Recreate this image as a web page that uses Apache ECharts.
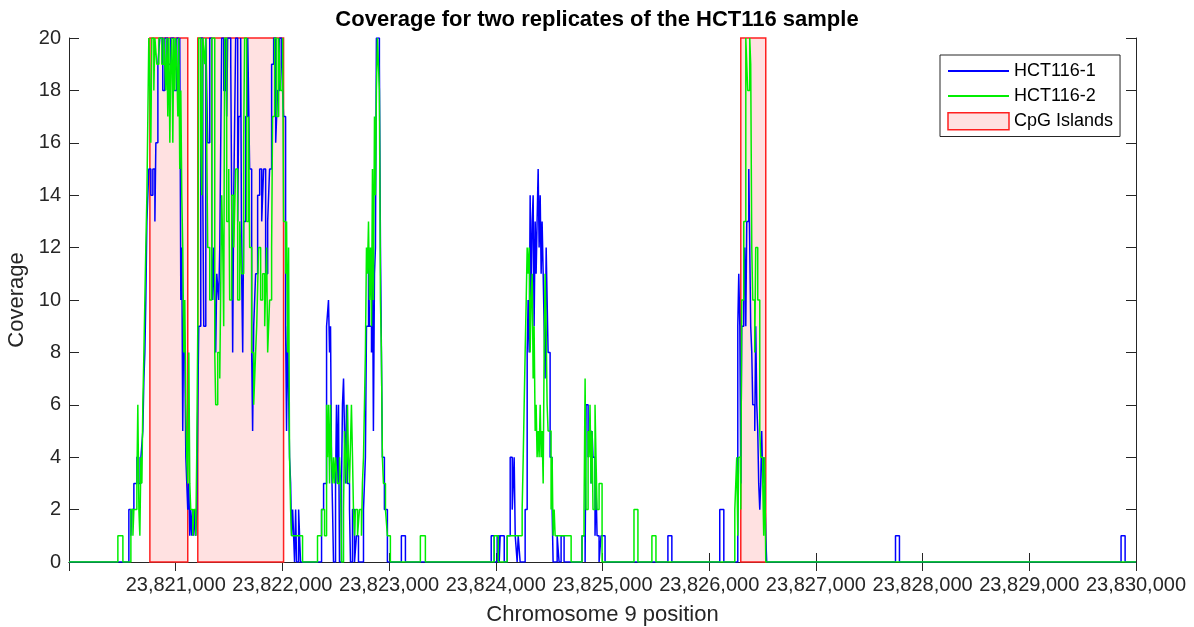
<!DOCTYPE html>
<html>
<head>
<meta charset="utf-8">
<script src="https://cdn.jsdelivr.net/npm/echarts@6/dist/echarts.min.js"></script>
<style>
html,body{margin:0;padding:0;background:#fff;}
#chart{width:1194px;height:627px;}
</style>
</head>
<body>
<div id="chart"></div>
<script>
// ---------- text ----------
const chartTitle = 'Coverage for two replicates of the HCT116 sample';
const xAxisName = 'Chromosome 9 position';
const yAxisName = 'Coverage';
const seriesNames = ['HCT116-1', 'HCT116-2', 'CpG Islands'];

// ---------- axis ranges ----------
const xMin = 23820000, xMax = 23830000, xStep = 1000;
const yMin = 0, yMax = 20, yStep = 2;

// ---------- CpG islands (start / end positions) ----------
const cpgStart = [23820758, 23821207, 23826296];
const cpgEnd   = [23821113, 23822011, 23826530];

// ---------- HCT116-1 coverage (step breakpoints) ----------
const rep1Pos = [23820000,
23820561,23820580,23820589,23820608,23820636,23820655,23820674,23820692,23820702,23820711,23820720,23820730,23820748,23820767,23820786,23820805,23820814,23820833,23820851,23820879,23820898,23820926,23820954,23820982,23821010,23821029,23821038,23821048,23821057,23821066,23821076,23821085,23821095,23821104,23821113,23821123,23821132,23821141,23821151,23821160,23821169,23821179,23821188,23821197,
23821207,23821216,23821235,23821254,23821263,23821282,23821300,23821319,23821338,23821347,23821357,23821375,23821385,23821403,23821413,23821431,23821450,23821469,23821478,23821487,23821516,23821534,23821544,23821562,23821581,23821590,23821609,23821618,23821628,23821637,23821656,23821675,23821693,23821712,23821721,23821731,23821749,23821768,23821787,23821806,23821824,23821843,23821862,23821880,23821899,23821918,23821937,23821955,23821974,23821993,23822011,23822030,23822039,23822049,23822067,23822077,23822086,23822096,23822105,23822114,23822124,23822133,23822152,23822161,23822170,
23822367,23822386,23822414,23822432,23822442,23822451,23822460,23822470,23822479,23822498,23822507,23822516,23822526,23822535,23822554,23822563,23822573,23822591,23822601,23822610,23822629,23822638,23822657,23822676,23822694,23822713,23822760,23822778,23822788,23822807,23822816,23822835,23822844,23822853,23822863,23822872,23822881,23822909,23822919,23822937,23822956,23822984,23823115,23823153,
23823957,23823985,23824013,23824032,23824041,23824079,23824107,23824135,23824154,23824172,23824182,23824200,23824210,23824228,23824275,23824294,23824303,23824313,23824322,23824331,23824341,23824350,23824359,23824369,23824378,23824387,23824397,23824406,23824416,23824425,23824434,23824444,23824453,23824462,23824472,23824490,23824509,23824528,23824537,23824575,23824593,23824612,23824640,23824808,23824837,23824846,23824865,23824874,23824893,23824902,23824911,23824930,23824939,23824949,23824968,23824986,23825024,23825613,23825650,23826099,23826137,
23826268,23826277,23826287,23826296,23826305,23826324,23826333,23826343,23826352,23826371,23826380,23826389,23826399,23826408,23826427,23826436,23826446,23826455,23826464,23826474,23826483,23826492,23826502,23826511,23826520,23826530,23826539,23827746,23827783,23829860,23829898,23830000];
const rep1Cov = [0,
2,1,2,3,4,3,4,5,7,8,10,13,15,14,15,13,16,19,20,18,20,19,20,18,20,19,20,10,12,5,10,8,4,3,2,3,1,2,1,2,1,2,1,2,
6,9,20,14,9,20,16,20,12,10,12,8,11,10,12,20,18,20,17,20,19,8,14,20,13,17,20,11,8,13,17,20,15,8,5,9,11,14,15,13,15,11,13,15,19,20,16,18,20,19,17,9,5,9,4,3,1,2,1,0,2,0,2,1,0,
2,3,9,10,8,9,4,2,0,3,6,3,6,0,3,6,7,3,6,3,2,0,2,0,1,0,2,4,9,12,9,8,12,5,11,12,20,19,12,4,2,0,1,0,
1,0,1,0,1,0,1,4,2,4,1,0,1,0,2,8,10,8,14,10,13,14,9,13,11,13,15,12,14,11,13,11,9,7,12,8,4,2,0,1,0,1,0,1,0,6,4,5,3,5,4,1,3,1,0,1,0,1,0,2,0,
9,11,9,3,9,10,12,9,13,15,12,9,8,6,5,9,6,5,3,2,3,5,3,4,3,1,0,1,0,1,0,0];

// ---------- HCT116-2 coverage (step breakpoints) ----------
const rep2Pos = [23820000,23820458,23820505,
23820580,23820599,23820608,23820636,23820645,23820655,23820664,23820674,23820683,23820692,23820702,23820711,23820720,23820730,23820739,23820748,23820758,23820767,23820776,23820795,23820805,23820823,23820842,23820870,23820889,23820907,23820917,23820926,23820936,23820945,23820954,23820964,23820973,23820982,23820992,23821001,23821010,23821020,23821029,23821038,23821048,23821057,23821066,23821076,23821085,23821095,23821104,23821113,23821123,23821132,23821141,23821160,23821169,23821188,23821197,
23821207,23821216,23821235,23821244,23821254,23821272,23821282,23821300,23821319,23821338,23821366,23821375,23821394,23821413,23821431,23821441,23821450,23821459,23821478,23821497,23821506,23821525,23821544,23821562,23821581,23821600,23821618,23821637,23821646,23821665,23821684,23821693,23821712,23821731,23821749,23821759,23821777,23821796,23821815,23821834,23821852,23821862,23821880,23821899,23821908,23821927,23821946,23821965,23821983,23822002,23822011,23822030,23822039,23822049,23822058,23822067,23822077,23822086,23822189,
23822329,23822367,23822395,23822414,23822423,23822432,23822442,23822451,23822460,23822470,23822479,23822488,23822498,23822516,23822535,23822545,23822554,23822573,23822582,23822591,23822601,23822610,23822619,23822629,23822647,23822657,23822666,23822676,23822685,23822704,23822722,23822741,23822750,23822760,23822778,23822788,23822797,23822807,23822816,23822825,23822835,23822844,23822853,23822863,23822872,23822881,23822891,23822909,23822919,23822928,23822937,23822947,23822966,23822984,23823012,23823293,23823340,
23823985,23824023,23824107,23824247,23824257,23824266,23824275,23824285,23824294,23824303,23824313,23824322,23824331,23824341,23824350,23824359,23824369,23824378,23824387,23824397,23824406,23824416,23824425,23824434,23824444,23824453,23824462,23824472,23824481,23824490,23824518,23824528,23824537,23824547,23824556,23824706,23824808,23824827,23824837,23824846,23824865,23824874,23824883,23824893,23824902,23824911,23824930,23824939,23824949,23824968,23824996,23825295,23825332,23825463,23825501,
23826240,23826258,23826268,23826277,23826296,23826305,23826324,23826343,23826361,23826380,23826389,23826399,23826408,23826427,23826436,23826455,23826474,23826483,23826502,23826511,23826520,23826530,23830000];
const rep2Cov = [0,1,0,
2,1,2,3,6,2,1,4,3,6,8,10,12,14,17,20,18,16,20,18,20,19,20,19,20,18,20,17,20,16,19,20,16,20,18,20,19,17,20,15,18,14,12,8,10,6,4,3,8,3,2,1,2,1,4,
9,20,16,14,20,19,20,12,10,20,8,6,8,7,14,12,9,20,13,15,10,14,12,15,10,13,11,16,20,13,17,12,8,6,8,9,12,10,11,9,12,8,10,12,17,20,17,20,18,20,13,11,13,8,12,4,2,1,0,
1,2,1,6,4,6,3,6,4,3,4,3,4,3,4,3,0,2,5,4,3,6,4,3,6,4,2,1,2,1,2,1,3,4,8,12,11,13,10,12,9,15,10,17,14,18,20,18,10,8,4,3,2,1,0,1,0,
1,0,1,2,4,6,8,10,12,11,12,8,10,11,7,9,5,6,4,5,4,6,4,5,3,8,11,9,6,5,2,4,1,2,1,0,1,2,7,2,5,4,6,3,5,2,6,4,2,3,0,2,0,1,0,
2,4,1,4,2,10,13,20,18,20,19,12,10,8,12,10,5,4,3,1,4,0,0];

function zip(xs, ys) { return xs.map((x, i) => [x, ys[i]]); }
function withCommas(v) { return String(v).replace(/\B(?=(\d{3})+(?!\d))/g, ','); }

const FONT = "'Liberation Sans', Arial, Helvetica, sans-serif";
const INK = '#262626';
const BLUE = '#0000ff';
const GREEN = '#00ee00';

const chart = echarts.init(document.getElementById('chart'), null, {renderer: 'canvas'});

const axisLineStyle = {show: true, lineStyle: {color: INK, width: 1}};

chart.setOption({
  animation: false,
  backgroundColor: '#ffffff',
  title: {
    text: chartTitle,
    left: 'center',
    top: 4,
    textStyle: {fontFamily: FONT, fontSize: 22, fontWeight: 'bold', color: '#000'}
  },
  legend: {
    orient: 'vertical',
    left: 940,
    top: 55,
    padding: [7, 7, 6, 7],
    itemGap: 7,
    itemWidth: 61,
    itemHeight: 17,
    backgroundColor: '#fff',
    borderColor: INK,
    borderWidth: 1,
    textStyle: {fontFamily: FONT, fontSize: 18, color: '#000'},
    data: [
      {name: seriesNames[0], itemStyle: {opacity: 0}},
      {name: seriesNames[1], itemStyle: {opacity: 0}},
      {name: seriesNames[2], icon: 'rect',
       itemStyle: {color: '#ffe1e1', borderColor: '#ff2020', borderWidth: 1.5}}
    ]
  },
  grid: {left: 69, right: 58, top: 38, bottom: 65, containLabel: false, outerBoundsMode: 'none'},
  xAxis: [{
    type: 'value', min: xMin, max: xMax, interval: xStep,
    name: xAxisName, nameLocation: 'middle', nameGap: 42,
    nameTextStyle: {fontFamily: FONT, fontSize: 22, color: INK},
    axisLine: axisLineStyle,
    axisTick: {show: true, inside: true, length: 9, lineStyle: {color: INK}},
    axisLabel: {
      fontFamily: FONT, fontSize: 20, color: INK, margin: 13,
      showMinLabel: false,
      formatter: v => (v === xMin ? '' : withCommas(v))
    },
    splitLine: {show: false}
  }, {
    type: 'value', min: xMin, max: xMax, interval: xStep, position: 'top',
    axisLine: axisLineStyle,
    axisTick: {show: true, inside: true, length: 9, lineStyle: {color: INK}},
    axisLabel: {show: false},
    splitLine: {show: false}
  }],
  yAxis: [{
    type: 'value', min: yMin, max: yMax, interval: yStep,
    name: yAxisName, nameLocation: 'middle', nameGap: 37,
    nameTextStyle: {fontFamily: FONT, fontSize: 22, color: INK},
    axisLine: axisLineStyle,
    axisTick: {show: true, inside: true, length: 10, lineStyle: {color: INK}},
    axisLabel: {fontFamily: FONT, fontSize: 20, color: INK, margin: 8},
    splitLine: {show: false}
  }, {
    type: 'value', min: yMin, max: yMax, interval: yStep, position: 'right',
    axisLine: axisLineStyle,
    axisTick: {show: true, inside: true, length: 10, lineStyle: {color: INK}},
    axisLabel: {show: false},
    splitLine: {show: false}
  }],
  series: [
    {
      name: seriesNames[2],
      type: 'custom',
      xAxisIndex: 0, yAxisIndex: 0,
      z: 1,
      itemStyle: {color: '#ffe1e1', borderColor: '#ff2020', borderWidth: 1.5},
      encode: {x: [0, 1]},
      data: cpgStart.map((s, i) => [s, cpgEnd[i]]),
      renderItem: function (params, api) {
        const p0 = api.coord([api.value(0), yMax]);
        const p1 = api.coord([api.value(1), yMin]);
        return {
          type: 'rect',
          shape: {x: p0[0], y: p0[1], width: p1[0] - p0[0], height: p1[1] - p0[1]},
          style: {fill: '#ffe1e1', stroke: '#ff2020', lineWidth: 1.5}
        };
      }
    },
    {
      name: seriesNames[0],
      type: 'line',
      step: 'end',
      z: 3,
      symbol: 'none',
      color: BLUE,
      lineStyle: {color: BLUE, width: 1.5},
      data: zip(rep1Pos, rep1Cov)
    },
    {
      name: seriesNames[1],
      type: 'line',
      step: 'end',
      z: 4,
      symbol: 'none',
      color: GREEN,
      lineStyle: {color: GREEN, width: 1.5},
      data: zip(rep2Pos, rep2Cov)
    }
  ]
});
</script>
</body>
</html>
